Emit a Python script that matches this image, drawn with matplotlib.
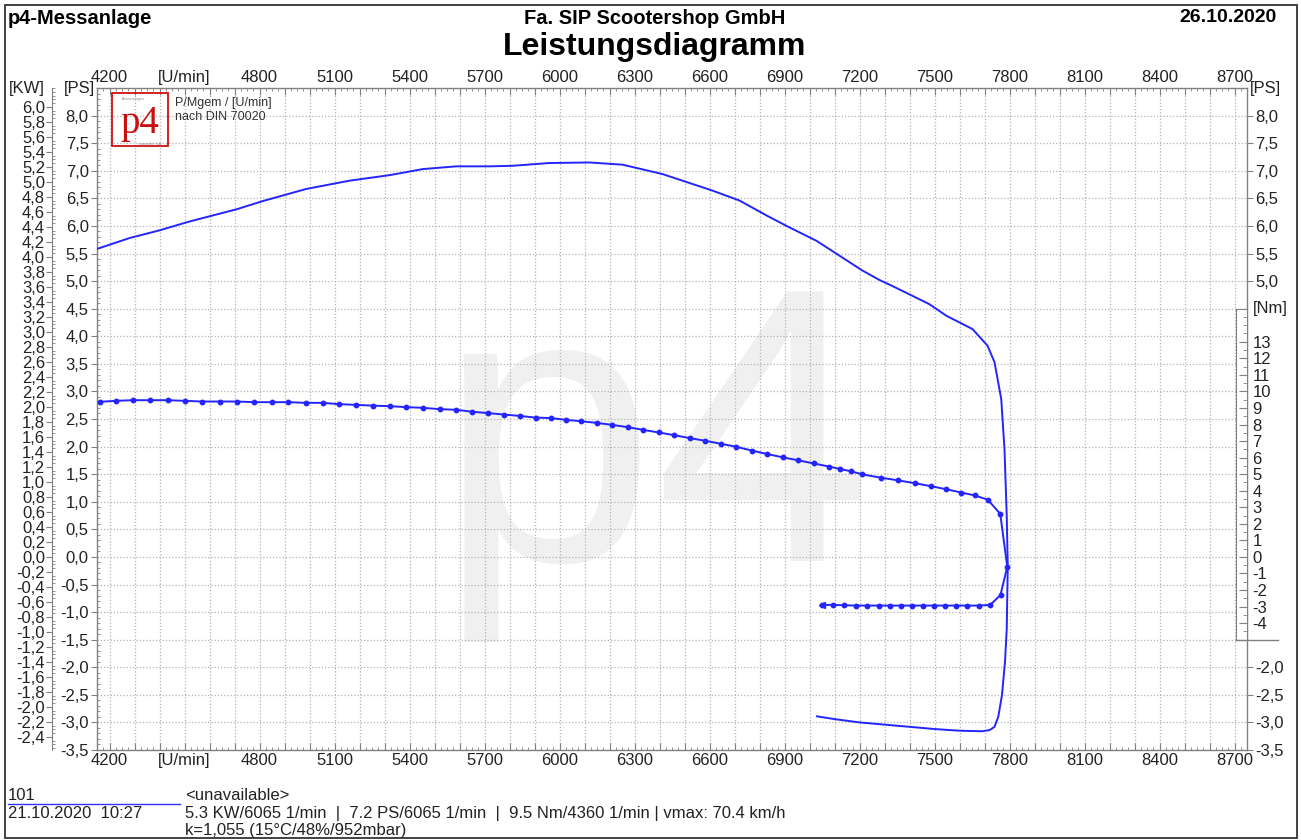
import matplotlib
matplotlib.use('Agg')
import matplotlib.pyplot as plt
from matplotlib.ticker import MultipleLocator, FixedLocator, FuncFormatter
from matplotlib.patches import Rectangle
from matplotlib.lines import Line2D
import numpy as np

plt.rcParams['font.family'] = ['Liberation Sans', 'DejaVu Sans']
plt.rcParams['axes.unicode_minus'] = False

# ---------------- data ----------------
power_rpm = [4148, 4280, 4400, 4520, 4707, 4813, 4987, 5160, 5320, 5453, 5587, 5720,
             5812, 5960, 6120, 6252, 6412, 6612, 6720, 6828, 6908, 7028, 7120, 7212,
             7280, 7332, 7480, 7548, 7652, 7712, 7740, 7767, 7780, 7789, 7793, 7789,
             7782, 7770, 7755, 7740, 7720, 7690, 7600, 7500, 7400, 7300, 7200, 7100, 7030]
power_ps = [5.58, 5.78, 5.92, 6.08, 6.30, 6.45, 6.67, 6.82, 6.92, 7.03, 7.08, 7.08,
            7.09, 7.14, 7.15, 7.11, 6.94, 6.64, 6.46, 6.19, 6.00, 5.73, 5.46, 5.19,
            5.02, 4.91, 4.58, 4.37, 4.13, 3.83, 3.53, 2.86, 1.95, 0.74, -0.17, -1.30,
            -1.90, -2.50, -2.90, -3.08, -3.14, -3.16, -3.15, -3.12, -3.08, -3.04, -3.00, -2.94, -2.89]

torque_rpm = [4160, 4224, 4293, 4363, 4432, 4501, 4571, 4640, 4709, 4779, 4848, 4915,
              4984, 5053, 5117, 5184, 5253, 5320, 5387, 5453, 5520, 5587, 5651, 5715,
              5779, 5840, 5904, 5965, 6027, 6085, 6148, 6210, 6272, 6334, 6396, 6458,
              6520, 6582, 6644, 6706, 6768, 6830, 6892, 6954, 7016, 7078, 7120, 7167,
              7211, 7284, 7353, 7423, 7487, 7547, 7607, 7660, 7713, 7763, 7791, 7764,
              7723, 7677, 7631, 7587, 7543, 7497, 7453, 7409, 7364, 7320, 7276, 7231,
              7184, 7139, 7093, 7050]
torque_nm = [9.37, 9.43, 9.47, 9.47, 9.47, 9.43, 9.39, 9.39, 9.39, 9.35, 9.35, 9.35,
             9.31, 9.31, 9.23, 9.19, 9.14, 9.11, 9.05, 9.01, 8.93, 8.89, 8.77, 8.69,
             8.60, 8.52, 8.42, 8.39, 8.28, 8.20, 8.10, 7.98, 7.84, 7.68, 7.52, 7.36,
             7.18, 7.02, 6.84, 6.66, 6.43, 6.22, 6.02, 5.84, 5.65, 5.46, 5.32, 5.17,
             4.99, 4.79, 4.63, 4.45, 4.27, 4.09, 3.89, 3.72, 3.46, 2.60, -0.59, -2.30,
             -2.90, -2.94, -2.94, -2.94, -2.94, -2.94, -2.94, -2.94, -2.94, -2.94, -2.94, -2.94,
             -2.94, -2.92, -2.90, -2.90]

ps_right_ticks = [8.0, 7.5, 7.0, 6.5, 6.0, 5.5, 5.0, -2.0, -2.5, -3.0, -3.5]
nm_ticks = list(range(-4, 14))
KW_PER_PS = 0.7355
PS_PER_NM = 0.3

header_left = "p4-Messanlage"
header_mid = "Fa. SIP Scootershop GmbH"
header_right = "26.10.2020"
title = "Leistungsdiagramm"
info_lines = ["<unavailable>",
              "5.3 KW/6065 1/min  |  7.2 PS/6065 1/min  |  9.5 Nm/4360 1/min | vmax: 70.4 km/h",
              "k=1,055 (15°C/48%/952mbar)"]

# ---------------- figure ----------------
W, H = 1301, 840
fig = plt.figure(figsize=(W / 100, H / 100), dpi=100)


def fx(px):
    return px / W


def fy(py):
    return 1 - py / H


BLUE = '#2424ff'
GRID = '#b4b4b4'
SPINE = '#808080'
TXT = '#222222'
FS = 12

L, R, T, B = 97, 1247, 88, 750
ax = fig.add_axes([fx(L), fy(B), fx(R) - fx(L), fy(T) - fy(B)])
ax.set_xlim(4150, 8750)
ax.set_ylim(-3.5, 8.5)
ax.set_axisbelow(True)


def comma(v, pos=None):
    if abs(v) < 1e-9:
        v = 0.0
    return f"{v:.1f}".replace('.', ',')


def xfmt(v, pos=None):
    v = int(round(v))
    if v == 4500:
        return '[U/min]'
    if v % 300 == 0 and 4200 <= v <= 8700:
        return str(v)
    return ''


ax.xaxis.set_major_locator(FixedLocator(np.arange(4200, 8701, 100)))
ax.xaxis.set_minor_locator(MultipleLocator(25))
ax.xaxis.set_major_formatter(FuncFormatter(xfmt))
ax.yaxis.set_major_locator(FixedLocator(np.arange(-3.5, 8.01, 0.5)))
ax.yaxis.set_minor_locator(MultipleLocator(0.1))
ax.yaxis.set_major_formatter(FuncFormatter(comma))

ax.grid(True, which='major', color=GRID, linestyle=(0, (1, 1.6)), linewidth=0.9)
ax.tick_params(axis='x', which='major', direction='in', length=5, top=True, labeltop=True,
               labelsize=FS, colors=SPINE, labelcolor=TXT, pad=2)
ax.tick_params(axis='x', which='minor', direction='in', length=2.5, top=True, colors=SPINE)
ax.tick_params(axis='y', which='major', direction='out', length=4, labelsize=FS,
               colors=SPINE, labelcolor=TXT, pad=2)
ax.tick_params(axis='y', which='minor', direction='in', length=2.5, colors=SPINE)
for s in ax.spines.values():
    s.set_color(SPINE)
    s.set_linewidth(1.0)

# watermark
ax.text(0.486, 0.285, 'p4', transform=ax.transAxes, fontsize=282, color='#f0f0f0',
        ha='center', va='baseline', zorder=0.1)

# power curve
ax.plot(power_rpm, power_ps, color=BLUE, lw=1.4, zorder=3)

# KW axis
kw = ax.twinx()
kw.set_ylim(-3.5 * KW_PER_PS, 8.5 * KW_PER_PS)
for n, s in kw.spines.items():
    s.set_visible(n == 'left')
kw.spines['left'].set_position(('outward', 45 * 0.72))
kw.spines['left'].set_color(SPINE)
kw.yaxis.set_ticks_position('left')
kw.yaxis.set_label_position('left')
kw.yaxis.set_major_locator(FixedLocator(np.round(np.arange(-2.4, 6.01, 0.2), 2)))
kw.yaxis.set_minor_locator(MultipleLocator(0.05))
kw.yaxis.set_major_formatter(FuncFormatter(comma))
kw.tick_params(axis='y', which='major', direction='out', length=4, labelsize=FS,
               colors=SPINE, labelcolor=TXT, pad=1)
kw.tick_params(axis='y', which='minor', direction='in', length=2.5, colors=SPINE)

# right PS labels
psr = ax.twinx()
psr.set_ylim(-3.5, 8.5)
for s in psr.spines.values():
    s.set_visible(False)
psr.yaxis.set_major_locator(FixedLocator(ps_right_ticks))
psr.yaxis.set_major_formatter(FuncFormatter(comma))
psr.yaxis.set_minor_locator(FixedLocator([]))
psr.tick_params(axis='y', which='major', direction='out', length=4, labelsize=FS,
                colors=SPINE, labelcolor=TXT, pad=2)

# torque curve (Nm scale, 1 Nm = 0.3 PS units, zero aligned)
tq = ax.twinx()
tq.set_ylim(-3.5 / PS_PER_NM, 8.5 / PS_PER_NM)
tq.axis('off')
tq.plot(torque_rpm, torque_nm, color=BLUE, lw=1.4, marker='o', ms=3.2, zorder=3)
tq.plot(torque_rpm[-1:], torque_nm[-1:], color=BLUE, marker='<', ms=5, ls='none')

# Nm box axis
axh = fy(T) - fy(B)
nm_bot = fy(B) + (-5 * PS_PER_NM + 3.5) / 12 * axh
nm_top = fy(B) + (15 * PS_PER_NM + 3.5) / 12 * axh
nm = fig.add_axes([fx(1236), nm_bot, fx(R) - fx(1236), nm_top - nm_bot])
nm.set_ylim(-5, 15)
nm.set_xticks([])
nm.set_facecolor('white')
for s in nm.spines.values():
    s.set_color(SPINE)
nm.yaxis.set_ticks_position('right')
nm.yaxis.set_major_locator(FixedLocator(nm_ticks))
nm.yaxis.set_minor_locator(MultipleLocator(0.5))
nm.tick_params(axis='y', which='major', direction='in', length=6, labelsize=FS,
               colors=SPINE, labelcolor=TXT, pad=4)
nm.tick_params(axis='y', which='minor', direction='in', length=3, colors=SPINE)
fig.add_artist(Line2D([fx(1236), fx(1278)], [nm_bot, nm_bot], color=SPINE, lw=1.0))
fig.text(fx(1253), nm_top, '[Nm]', fontsize=FS, color=TXT, ha='left', va='center')

# unit labels
fig.text(fx(45), fy(89), '[KW]', fontsize=FS, color=TXT, ha='right', va='center')
fig.text(fx(95), fy(89), '[PS]', fontsize=FS, color=TXT, ha='right', va='center')
fig.text(fx(1250), fy(89), '[PS]', fontsize=FS, color=TXT, ha='left', va='center')

# header
fig.text(fx(8), fy(18), header_left, fontsize=14.5, fontweight='bold', ha='left', va='center')
fig.text(fx(655), fy(18), header_mid, fontsize=14.5, fontweight='bold', ha='center', va='center')
fig.text(fx(1277), fy(18), header_right, fontsize=14, fontweight='bold', ha='right', va='center')
fig.text(fx(655), fy(47), title, fontsize=23, fontweight='bold', ha='center', va='center')

# logo
fig.add_artist(Rectangle((fx(112), fy(146)), fx(168) - fx(112), fy(93) - fy(146),
                         fill=False, edgecolor='#d01010', lw=1.3))
fig.text(fx(140), fy(133), 'p4', fontsize=28, color='#c81010', ha='center', va='baseline',
         family=['Liberation Serif', 'DejaVu Serif'])
fig.text(fx(133), fy(99), 'Auswertungen', fontsize=2.5, color='#888888', ha='center', va='center')
fig.text(fx(150), fy(143.5), 'copyright ©ulp', fontsize=2.5, color='#888888', ha='center', va='center')
fig.text(fx(175), fy(103), 'P/Mgem / [U/min]', fontsize=9, color='#333333', ha='left', va='center')
fig.text(fx(175), fy(117), 'nach DIN 70020', fontsize=9, color='#333333', ha='left', va='center')

# footer
fig.text(fx(8), fy(795), '101', fontsize=FS, color=TXT, ha='left', va='center')
fig.add_artist(Line2D([fx(8), fx(180)], [fy(804), fy(804)], color='#3030ff', lw=1.0))
fig.text(fx(8), fy(814), '21.10.2020  10:27', fontsize=FS, color=TXT, ha='left', va='center')
for i, line in enumerate(info_lines):
    fig.text(fx(185), fy(796 + 17.5 * i), line, fontsize=FS, color=TXT, ha='left', va='center')

# outer frame
fig.add_artist(Rectangle((fx(5), fy(838)), fx(1297) - fx(5), fy(5) - fy(838),
                         fill=False, edgecolor='#333333', lw=1.3))

fig.savefig('out.png', dpi=100)
